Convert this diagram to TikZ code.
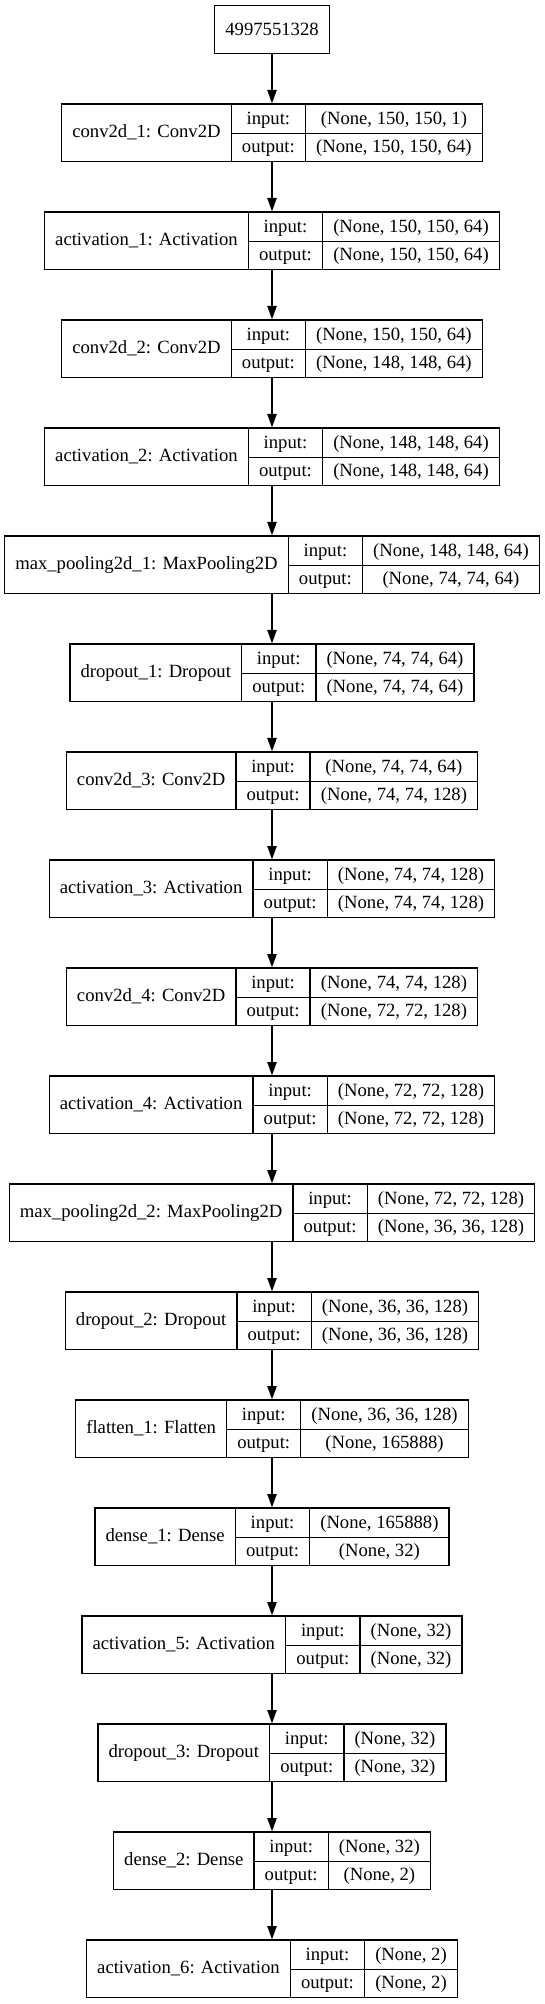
\documentclass[tikz,border=0pt]{standalone}
\usepackage{fontspec}
\setmainfont{Liberation Serif}
\usepackage{multirow}
\usetikzlibrary{arrows.meta}
\setlength{\arrayrulewidth}{1pt}
\setlength{\tabcolsep}{8pt}
\renewcommand{\arraystretch}{1.265}
\newcommand{\record}[3]{\begin{tabular}{c|c|c}\multirow{2}{*}{#1} & input: & #2\\\cline{2-3} & output: & #3\end{tabular}}
\tikzset{%
  layer/.style={draw,line width=1pt,inner sep=0pt,font=\fontsize{14}{17}\selectfont},%
  source/.style={draw,line width=1pt,minimum width=72pt,minimum height=36pt,inner xsep=8pt,font=\fontsize{14}{17}\selectfont},%
  flow/.style={-{Triangle[length=10pt,width=7pt]},line width=1pt}%
}
\begin{document}
\begin{tikzpicture}
    \useasboundingbox (0,0) rectangle (408pt,-1503pt);%
    \node[source] at (204pt,-22.3pt) (src) {4997551328};%
    \foreach \lab/\inp/\outp [count=\i] in {%
      {conv2d\_1: Conv2D}/{(None, 150, 150, 1)}/{(None, 150, 150, 64)},%
      {activation\_1: Activation}/{(None, 150, 150, 64)}/{(None, 150, 150, 64)},%
      {conv2d\_2: Conv2D}/{(None, 150, 150, 64)}/{(None, 148, 148, 64)},%
      {activation\_2: Activation}/{(None, 148, 148, 64)}/{(None, 148, 148, 64)},%
      {max\_pooling2d\_1: MaxPooling2D}/{(None, 148, 148, 64)}/{(None, 74, 74, 64)},%
      {dropout\_1: Dropout}/{(None, 74, 74, 64)}/{(None, 74, 74, 64)},%
      {conv2d\_3: Conv2D}/{(None, 74, 74, 64)}/{(None, 74, 74, 128)},%
      {activation\_3: Activation}/{(None, 74, 74, 128)}/{(None, 74, 74, 128)},%
      {conv2d\_4: Conv2D}/{(None, 74, 74, 128)}/{(None, 72, 72, 128)},%
      {activation\_4: Activation}/{(None, 72, 72, 128)}/{(None, 72, 72, 128)},%
      {max\_pooling2d\_2: MaxPooling2D}/{(None, 72, 72, 128)}/{(None, 36, 36, 128)},%
      {dropout\_2: Dropout}/{(None, 36, 36, 128)}/{(None, 36, 36, 128)},%
      {flatten\_1: Flatten}/{(None, 36, 36, 128)}/{(None, 165888)},%
      {dense\_1: Dense}/{(None, 165888)}/{(None, 32)},%
      {activation\_5: Activation}/{(None, 32)}/{(None, 32)},%
      {dropout\_3: Dropout}/{(None, 32)}/{(None, 32)},%
      {dense\_2: Dense}/{(None, 32)}/{(None, 2)},%
      {activation\_6: Activation}/{(None, 2)}/{(None, 2)}%
    } {%
      \node[layer] at (204pt,{-99.5pt-81pt*(\i-1)}) (l\i) {\record{\lab}{\inp}{\outp}};%
    };%
    \draw[flow] (src) -- (l1);%
    \foreach \i [evaluate=\i as \j using int(\i+1)] in {1,...,17} {%
      \draw[flow] (l\i) -- (l\j);%
    };%
  \end{tikzpicture}
\end{document}
